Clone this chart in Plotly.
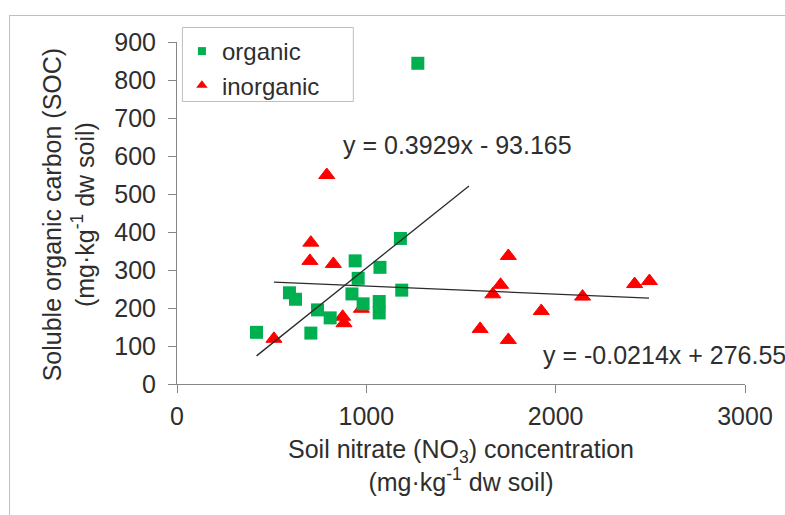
import plotly.graph_objects as go

# ---------------- data ----------------
org_x = [420, 594, 626, 707, 742, 809, 941, 957, 924, 983, 1072, 1068, 1068, 1180, 1187, 1272]
org_y = [136, 240, 223, 134, 195, 174, 324, 278, 237, 211, 307, 217, 187, 383, 247, 844]

inorg_x = [512, 707, 702, 826, 791, 875, 882, 974, 1750, 1709, 1668, 1601, 1750, 1924, 2142, 2417, 2495]
inorg_y = [119, 372, 324, 316, 550, 177, 160, 198, 337, 261, 236, 145, 116, 192, 230, 263, 271]

org_trend_x = [420, 1542]
org_trend_y = [74, 521]
inorg_trend_x = [512, 2493]
inorg_trend_y = [268, 226]

series_names = ["organic", "inorganic"]
eq_texts = ["y = 0.3929x - 93.165", "y = -0.0214x + 276.55"]
eq_x = [868, 1920]
eq_y = [628, 77]

x_ticks = [0, 1000, 2000, 3000]
y_ticks = [0, 100, 200, 300, 400, 500, 600, 700, 800, 900]

# ---------------- style ----------------
W, H = 785, 515
L, R, T, B = 177, 752, 42, 384   # plot area pixel box
FONT = "Liberation Sans, Arial, sans-serif"
TXT = "#2e2e2e"
GREEN = "#00B050"
RED = "#FF0000"
AXIS = "#868686"
BORDER = "#BFBFBF"
FS = 25

def px_x(p):
    return (p - L) / (R - L)

def px_y(p):
    return (B - p) / (B - T)

fig = go.Figure()

# legend-only entries (small markers, like the original)
fig.add_trace(go.Scatter(x=[None], y=[None], mode="markers", name=series_names[0],
                         marker=dict(symbol="square", size=8, color=GREEN)))
fig.add_trace(go.Scatter(x=[None], y=[None], mode="markers", name=series_names[1],
                         marker=dict(symbol="triangle-up", size=10, color=RED)))

fig.add_trace(go.Scatter(x=inorg_x, y=inorg_y, mode="markers", showlegend=False,
                         marker=dict(symbol="triangle-up", size=14, color=RED,
                                     line=dict(color=RED, width=1))))
fig.add_trace(go.Scatter(x=org_x, y=org_y, mode="markers", showlegend=False,
                         marker=dict(symbol="square", size=13, color=GREEN,
                                     line=dict(width=0))))

fig.add_trace(go.Scatter(x=org_trend_x, y=org_trend_y, mode="lines", showlegend=False,
                         line=dict(color="#2b2b2b", width=1.3)))
fig.add_trace(go.Scatter(x=inorg_trend_x, y=inorg_trend_y, mode="lines", showlegend=False,
                         line=dict(color="#2b2b2b", width=1.3)))

for t, xx, yy in zip(eq_texts, eq_x, eq_y):
    fig.add_annotation(x=xx, y=yy, xref="x", yref="y", text=t, showarrow=False,
                       xanchor="left", yanchor="middle",
                       font=dict(family=FONT, size=FS, color=TXT))

# axis titles
fig.add_annotation(x=px_x(464), y=px_y(465), xref="paper", yref="paper",
                   text="Soil nitrate (NO<sub>3</sub>) concentration<br>(mg·kg<sup>-1</sup> dw soil)",
                   showarrow=False, xanchor="center", yanchor="middle",
                   font=dict(family=FONT, size=FS, color=TXT))
fig.add_annotation(x=px_x(67), y=px_y(214), xref="paper", yref="paper",
                   text="Soluble organic carbon (SOC)<br>(mg·kg<sup>-1</sup> dw soil)",
                   textangle=-90, showarrow=False, xanchor="center", yanchor="middle",
                   font=dict(family=FONT, size=FS, color=TXT))

# chart-area border (top and left visible)
fig.add_shape(type="line", xref="paper", yref="paper",
              x0=px_x(7), x1=px_x(800), y0=px_y(15.5), y1=px_y(15.5),
              line=dict(color=BORDER, width=1))
fig.add_shape(type="line", xref="paper", yref="paper",
              x0=px_x(7.5), x1=px_x(7.5), y0=px_y(15.5), y1=px_y(530),
              line=dict(color=BORDER, width=1))
# legend frame
fig.add_shape(type="rect", xref="paper", yref="paper",
              x0=px_x(182.5), x1=px_x(355.5), y0=px_y(101.5), y1=px_y(27.5),
              line=dict(color=BORDER, width=1), fillcolor="white", layer="below")

fig.update_layout(
    width=W, height=H,
    margin=dict(l=L, r=W - R, t=T, b=H - B, pad=0),
    paper_bgcolor="white", plot_bgcolor="white",
    font=dict(family=FONT, size=FS, color=TXT),
    legend=dict(x=px_x(182), y=px_y(29), xanchor="left", yanchor="top",
                borderwidth=0, bgcolor="rgba(0,0,0,0)",
                font=dict(family=FONT, size=24, color=TXT)),
    xaxis=dict(range=[0, 3000], tickvals=x_ticks, ticktext=[str(v) for v in x_ticks],
               showgrid=False, zeroline=False, showline=True, linecolor=AXIS, linewidth=1,
               ticks="outside", ticklen=8, tickcolor=AXIS, tickwidth=1,
               tickfont=dict(family=FONT, size=FS, color=TXT), ticklabelstandoff=2),
    yaxis=dict(range=[0, 900], tickvals=y_ticks, ticktext=[str(v) for v in y_ticks],
               showgrid=False, zeroline=False, showline=True, linecolor=AXIS, linewidth=1,
               ticks="outside", ticklen=8, tickcolor=AXIS, tickwidth=1,
               tickfont=dict(family=FONT, size=FS, color=TXT), ticklabelstandoff=7),
)

fig.write_html("out.html")
